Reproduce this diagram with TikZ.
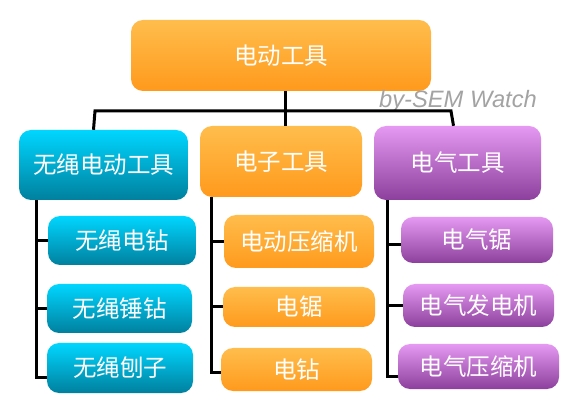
\documentclass[tikz,border=0pt]{standalone}
\usepackage{fontspec}
\newfontfamily\cjk{Noto Sans CJK SC}
\setsansfont{Liberation Sans}
\usetikzlibrary{calc}
\definecolor{orgtop}{HTML}{FFBD4C}
\definecolor{orgbot}{HTML}{FF9A1C}
\definecolor{cyntop}{HTML}{00D6FF}
\definecolor{cynbot}{HTML}{00809E}
\definecolor{purtop}{HTML}{E699F2}
\definecolor{purbot}{HTML}{8C3F9C}
\definecolor{markgray}{HTML}{A3A3A3}
\begin{document}
\begin{tikzpicture}[x=1pt,y=-1pt,
	box/.style={rectangle,rounded corners=12pt,inner sep=0pt,text=white,
		font=\cjk\fontsize{23.5}{23.5}\selectfont},
	orgbox/.style={box,top color=orgtop,bottom color=orgbot},
	cynbox/.style={box,top color=cyntop,bottom color=cynbot},
	purbox/.style={box,top color=purtop,bottom color=purbot},
	link/.style={draw=black,line width=3pt}]
	\useasboundingbox (0,0) rectangle (578,411);
	% top
	\node[orgbox,minimum width=300pt,minimum height=71pt] (top) at (281,55.5) {电动工具};
	\node[anchor=base west,inner sep=0pt,text=markgray,font=\sffamily\itshape\fontsize{23.7}{23.7}\selectfont] (mark) at (379,108) {by-SEM Watch};
	% second row
	\node[cynbox,minimum width=169pt,minimum height=70pt] (cpar) at (103.5,165) {无绳电动工具};
	\node[orgbox,minimum width=162pt,minimum height=71pt] (opar) at (281,161.5) {电子工具};
	\node[purbox,minimum width=167pt,minimum height=74pt] (ppar) at (457.5,163) {电气工具};
	% children
	\node[cynbox,minimum width=148pt,minimum height=49pt] (cc1) at (122,240.5) {无绳电钻};
	\node[cynbox,minimum width=145pt,minimum height=49pt] (cc2) at (119.5,308.5) {无绳锤钻};
	\node[cynbox,minimum width=146pt,minimum height=50pt] (cc3) at (120,368) {无绳刨子};
	\node[orgbox,minimum width=150pt,minimum height=53pt] (oc1) at (299,241.5) {电动压缩机};
	\node[orgbox,minimum width=152pt,minimum height=40pt] (oc2) at (299,307) {电锯};
	\node[orgbox,minimum width=151pt,minimum height=43pt] (oc3) at (296.5,369.5) {电钻};
	\node[purbox,minimum width=152pt,minimum height=46pt] (pc1) at (477,240) {电气锯};
	\node[purbox,minimum width=151pt,minimum height=43pt] (pc2) at (478.5,305.5) {电气发电机};
	\node[purbox,minimum width=161pt,minimum height=45pt] (pc3) at (478.5,366.5) {电气压缩机};
	% links from the top
	\coordinate (busl) at (95,111);
	\coordinate (busr) at (451,111);
	\draw[link] ([xshift=4pt]top.south) -- ([xshift=4pt]opar.north);
	\draw[link] ([xshift=-10pt]cpar.north) -- (busl) -- (busr) -- ([xshift=-4pt]ppar.north);
	% trunks
	\coordinate (ctr) at ([xshift=18pt]cpar.south west);
	\coordinate (otr) at ([xshift=12pt]opar.south west);
	\coordinate (ptr) at ([xshift=14pt]ppar.south west);
	\draw[link] (ctr) |- ($(cc3.west)+(0,9)$);
	\draw[link] (ctr |- cc1.west) -- (cc1.west);
	\draw[link] (ctr |- cc2.west) -- (cc2.west);
	\draw[link] (otr) |- ($(oc3.west)+(0,2.5)$);
	\draw[link] (otr |- oc1.west) -- (oc1.west);
	\draw[link] (otr |- oc2.west) -- (oc2.west);
	\draw[link] (ptr) |- ($(pc3.west)+(0,10)$);
	\draw[link] ($(ptr |- pc1.west)+(0,5)$) -- ($(pc1.west)+(0,5)$);
	\draw[link] (ptr |- pc2.west) -- (pc2.west);
\end{tikzpicture}
\end{document}
